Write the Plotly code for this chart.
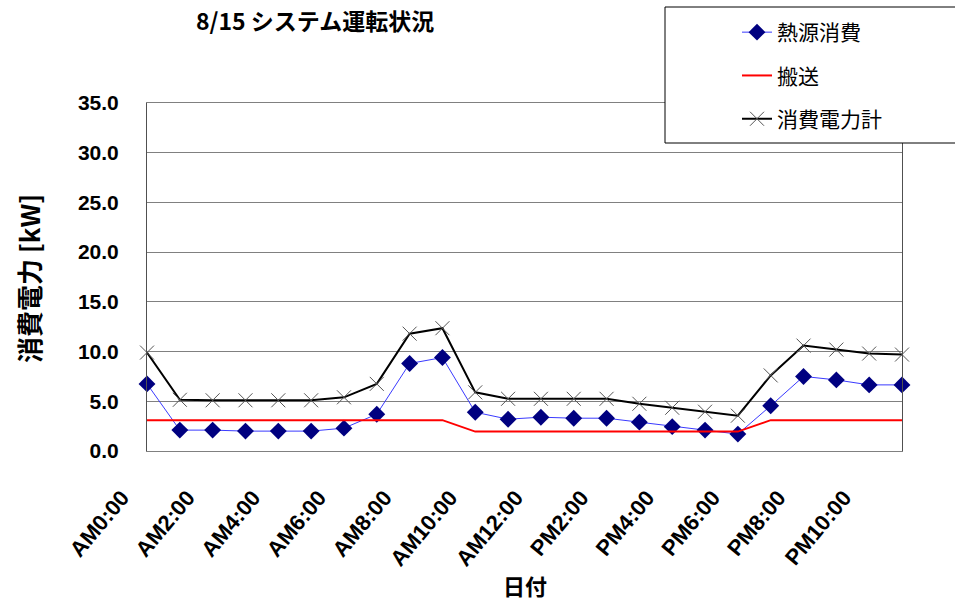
import plotly.graph_objects as go

# Hourly categories for the day
hours = ([f"AM{h}:00" for h in range(12)] + ["AM12:00"]
         + [f"PM{h}:00" for h in range(1, 12)])
tick_labels = hours[::2]

# Power readings [kW]
heat_source = [6.75, 2.1, 2.1, 2.0, 2.0, 2.0, 2.3, 3.7, 8.8, 9.4, 3.9, 3.2,
               3.4, 3.3, 3.3, 2.9, 2.45, 2.1, 1.7, 4.55, 7.5, 7.15, 6.65, 6.65]
transport = [3.1, 3.1, 3.1, 3.1, 3.1, 3.1, 3.1, 3.1, 3.1, 3.1, 1.95, 1.95,
             1.95, 1.95, 1.95, 1.95, 1.95, 1.95, 1.95, 3.1, 3.1, 3.1, 3.1, 3.1]
total = [9.9, 5.15, 5.1, 5.1, 5.1, 5.1, 5.4, 6.75, 11.8, 12.35, 5.9, 5.25,
         5.25, 5.25, 5.25, 4.75, 4.35, 3.95, 3.55, 7.6, 10.6, 10.2, 9.8, 9.7]

LATIN = "Liberation Sans, Arial, Noto Sans CJK JP"
CJK = "Noto Sans CJK JP, Liberation Sans"

fig = go.Figure()
fig.add_trace(go.Scatter(
    x=hours, y=heat_source, name="熱源消費", mode="lines+markers",
    line=dict(color="#3a3aff", width=1),
    marker=dict(symbol="diamond", size=13, color="#000080"),
    cliponaxis=False, legendgroup="a"))
fig.add_trace(go.Scatter(
    x=hours, y=transport, name="搬送", mode="lines",
    line=dict(color="#ff0000", width=2),
    cliponaxis=False, legendgroup="b"))
fig.add_trace(go.Scatter(
    x=hours, y=total, name="消費電力計", mode="lines+markers",
    line=dict(color="#000000", width=2),
    marker=dict(symbol="x-thin", size=14,
                line=dict(color="#555555", width=1)),
    cliponaxis=False, legendgroup="c"))

L, R, T, B = 147, 53, 103, 152
W, H = 955, 603
pw, ph = W - L - R, H - T - B


def px_x(x):
    return (x - L) / pw


def px_y(y):
    return (H - B - y) / ph


fig.update_layout(
    width=W, height=H,
    margin=dict(l=L, r=R, t=T, b=B, pad=0),
    paper_bgcolor="white", plot_bgcolor="white",
    showlegend=True,
    title=dict(text="8/15 システム運転状況", x=196 / W, xanchor="left",
               y=1 - 22 / H, yanchor="middle",
               font=dict(family=CJK, size=23, color="black", weight="bold")),
    legend=dict(x=px_x(737), y=px_y(12), xanchor="left", yanchor="top",
                bgcolor="rgba(0,0,0,0)", borderwidth=0,
                traceorder="grouped", tracegroupgap=13,
                font=dict(family=CJK, size=21, color="black")),
    xaxis=dict(
        type="category", range=[0, len(hours) - 1], automargin=False,
        tickmode="array", tickvals=tick_labels, ticktext=tick_labels,
        tickangle=-50, ticks="",
        ticklabelshift=-25, ticklabelstandoff=24,
        tickfont=dict(family=LATIN, size=22, color="black", weight="bold"),
        showgrid=False, showline=True, linecolor="#808080", linewidth=1,
        mirror=True, zeroline=False),
    yaxis=dict(
        range=[0, 35], dtick=5, tickformat=".1f", ticks="", automargin=False,
        ticklabelstandoff=23,
        tickfont=dict(family=LATIN, size=21, color="black", weight="bold"),
        showgrid=True, gridcolor="#808080", gridwidth=1,
        showline=True, linecolor="#505050", linewidth=1, mirror=True,
        zeroline=False),
    shapes=[dict(type="rect", xref="paper", yref="paper",
                 x0=px_x(665), x1=px_x(975), y0=px_y(143), y1=px_y(7),
                 fillcolor="white", line=dict(color="black", width=1),
                 layer="above")],
    annotations=[
        dict(text="消費電力 [kW]", xref="paper", yref="paper",
             x=px_x(28), y=px_y(278), xanchor="center", yanchor="middle",
             textangle=-90, showarrow=False,
             font=dict(family=CJK, size=26, color="black", weight="bold")),
        dict(text="日付", xref="paper", yref="paper",
             x=px_x(525), y=px_y(585), xanchor="center", yanchor="middle",
             showarrow=False,
             font=dict(family=CJK, size=22, color="black", weight="bold")),
    ],
)

fig.write_html("out.html")
